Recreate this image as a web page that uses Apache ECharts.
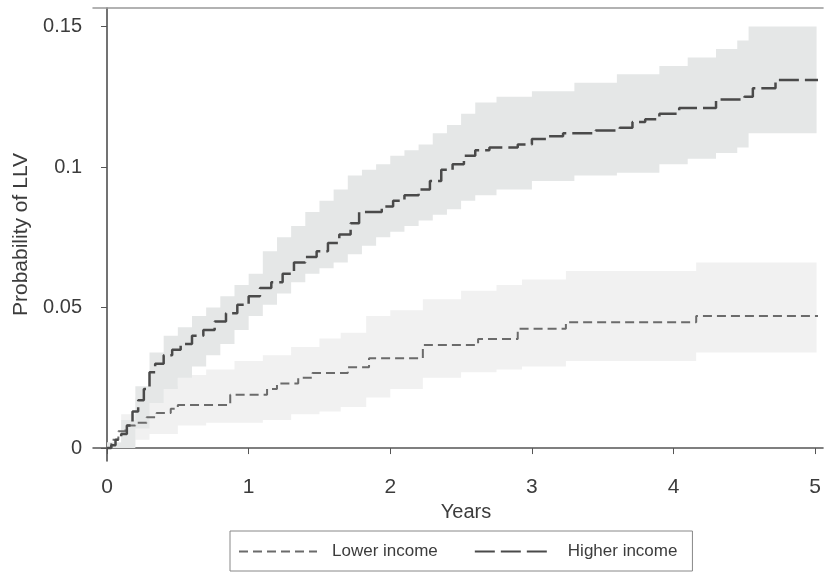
<!DOCTYPE html>
<html>
<head>
<meta charset="utf-8">
<script src="https://cdn.jsdelivr.net/npm/echarts@6/dist/echarts.min.js"></script>
<style>
  html, body { margin: 0; padding: 0; background: #fff; }
  #chart { width: 824px; height: 572px; }
</style>
</head>
<body>
<div id="chart"></div>
<script>
  // Kaplan-Meier style cumulative probability
  const xTicks = [0, 1, 2, 3, 4, 5]
  const yTicks = [0, 0.05, 0.1, 0.15]

  // higher income estimate
  const hiT = [0, 0.03, 0.06, 0.1, 0.14, 0.18, 0.22, 0.26, 0.3, 0.34, 0.4, 0.46, 0.52, 0.6, 0.68, 0.76, 0.84, 0.92, 1.0, 1.08, 1.16, 1.24, 1.32, 1.4, 1.48, 1.56, 1.64, 1.72, 1.78, 1.94, 2.02, 2.1, 2.2, 2.28, 2.36, 2.44, 2.52, 2.6, 2.7, 2.9, 3.0, 3.12, 3.22, 3.45, 3.62, 3.71, 3.8, 3.9, 4.04, 4.3, 4.5, 4.56, 4.72, 5.02]
  const hiP = [0, 0.001, 0.003, 0.005, 0.008, 0.013, 0.017, 0.021, 0.027, 0.030, 0.033, 0.035, 0.037, 0.040, 0.042, 0.045, 0.048, 0.051, 0.054, 0.057, 0.059, 0.062, 0.066, 0.068, 0.070, 0.073, 0.076, 0.080, 0.084, 0.086, 0.088, 0.090, 0.092, 0.095, 0.099, 0.101, 0.104, 0.106, 0.107, 0.108, 0.110, 0.111, 0.112, 0.113, 0.114, 0.116, 0.117, 0.119, 0.121, 0.124, 0.125, 0.128, 0.131, 0.131]

  // lower income estimate
  const loT = [0, 0.03, 0.08, 0.13, 0.2, 0.28, 0.35, 0.45, 0.5, 0.87, 1.13, 1.2, 1.35, 1.45, 1.7, 1.85, 2.23, 2.62, 2.9, 3.24, 4.16, 5.02]
  const loP = [0, 0.003, 0.006, 0.008, 0.009, 0.011, 0.0125, 0.014, 0.0153, 0.019, 0.021, 0.023, 0.025, 0.0267, 0.0288, 0.032, 0.0367, 0.0388, 0.0425, 0.0448, 0.047, 0.047]

  // confidence bands
  const hiBandT = [0, 0.1, 0.2, 0.3, 0.4, 0.5, 0.6, 0.7, 0.8, 0.9, 1.0, 1.1, 1.2, 1.3, 1.4, 1.5, 1.6, 1.7, 1.8, 1.9, 2.0, 2.1, 2.2, 2.3, 2.4, 2.5, 2.6, 2.75, 3.0, 3.3, 3.6, 3.9, 4.1, 4.3, 4.45, 4.53, 5.01]
  const hiBandUp = [0.002, 0.010, 0.022, 0.034, 0.040, 0.043, 0.047, 0.050, 0.054, 0.058, 0.062, 0.070, 0.075, 0.079, 0.084, 0.088, 0.092, 0.097, 0.099, 0.101, 0.104, 0.106, 0.108, 0.112, 0.115, 0.119, 0.123, 0.125, 0.127, 0.130, 0.133, 0.136, 0.139, 0.142, 0.145, 0.150, 0.151]
  const hiBandLo = [0, 0, 0.007, 0.016, 0.021, 0.025, 0.029, 0.033, 0.037, 0.042, 0.047, 0.051, 0.055, 0.059, 0.062, 0.064, 0.066, 0.069, 0.072, 0.075, 0.077, 0.079, 0.081, 0.083, 0.085, 0.088, 0.090, 0.092, 0.095, 0.097, 0.098, 0.101, 0.103, 0.105, 0.107, 0.112, 0.114]

  const loBandT = [0, 0.1, 0.2, 0.3, 0.5, 0.7, 0.9, 1.1, 1.3, 1.5, 1.65, 1.83, 2.0, 2.23, 2.5, 2.75, 2.93, 3.24, 4.16, 5.01]
  const loBandUp = [0.002, 0.012, 0.018, 0.022, 0.026, 0.028, 0.031, 0.033, 0.036, 0.039, 0.041, 0.047, 0.049, 0.053, 0.056, 0.058, 0.060, 0.063, 0.066, 0.066]
  const loBandLo = [0, 0.001, 0.003, 0.005, 0.008, 0.009, 0.009, 0.010, 0.012, 0.013, 0.0146, 0.018, 0.021, 0.025, 0.027, 0.028, 0.029, 0.031, 0.034, 0.034]

  const zip = (xs, ys) => xs.map((x, i) => [x, ys[i]])

  // step shaped polygon between the lower and upper bound
  const bandSeries = (name, t, lo, up, color) => ({
    name: name,
    type: 'custom',
    silent: true,
    data: [[0, 0]],
    renderItem(params, api) {
      let top = []
      let bottom = []
      for (let i = 0; i < t.length; i++) {
        let next = i + 1 < t.length ? t[i + 1] : t[i]
        top.push(api.coord([t[i], up[i]]), api.coord([next, up[i]]))
        bottom.push(api.coord([t[i], lo[i]]), api.coord([next, lo[i]]))
      }
      return {
        type: 'polygon',
        shape: { points: top.concat(bottom.reverse()) },
        style: { fill: color }
      }
    }
  })

  const textColor = '#3c3c3c'
  const font = 'Liberation Sans, Arial, sans-serif'

  const chart = echarts.init(document.getElementById('chart'))
  chart.setOption({
    animation: false,
    backgroundColor: '#fff',
    grid: { left: 93, right: 0, top: 8, bottom: 111, containLabel: false },
    legend: {
      data: ['Lower income', 'Higher income'],
      left: 230,
      top: 531,
      orient: 'horizontal',
      itemWidth: 78,
      itemHeight: 14,
      itemGap: 36,
      itemStyle: { opacity: 0 },
      borderColor: '#888',
      borderWidth: 1,
      borderRadius: 0,
      padding: [12, 15, 11, 8],
      textStyle: { fontSize: 17, color: textColor, fontFamily: font, padding: [0, 0, 0, 10] }
    },
    xAxis: [{
      type: 'value',
      min: -0.099,
      max: 5.056,
      name: 'Years',
      nameLocation: 'middle',
      nameGap: 37,
      nameTextStyle: { fontSize: 20, color: textColor, fontFamily: font, padding: [0, 0, 0, 16] },
      splitLine: { show: false },
      axisLine: { lineStyle: { color: '#555', width: 1.5 } },
      axisTick: { show: true, length: 6, customValues: xTicks, lineStyle: { color: '#555' } },
      axisLabel: { customValues: xTicks, fontSize: 21, color: textColor, fontFamily: font, margin: 16 }
    }, {
      type: 'value',
      position: 'top',
      min: -0.099,
      max: 5.056,
      axisLine: { show: true, lineStyle: { color: '#999', width: 1.5 } },
      axisTick: { show: false },
      axisLabel: { show: false },
      splitLine: { show: false }
    }],
    yAxis: {
      type: 'value',
      min: -0.0046,
      max: 0.1566,
      name: 'Probability of LLV',
      nameLocation: 'middle',
      nameGap: 61,
      nameTextStyle: { fontSize: 21, color: textColor, fontFamily: font },
      splitLine: { show: false },
      axisLine: { show: true, lineStyle: { color: '#444', width: 1.5 } },
      axisTick: { show: true, length: 6, customValues: yTicks, lineStyle: { color: '#555' } },
      axisLabel: {
        customValues: yTicks,
        fontSize: 20,
        color: textColor,
        fontFamily: font,
        margin: 11,
        formatter: v => String(+v.toFixed(3))
      }
    },
    series: [
      bandSeries('lowBand', loBandT, loBandLo, loBandUp, '#f1f1f1'),
      bandSeries('highBand', hiBandT, hiBandLo, hiBandUp, '#e5e7e7'),
      {
        name: 'Lower income',
        type: 'line',
        step: 'end',
        symbol: 'none',
        data: zip(loT, loP),
        lineStyle: { color: '#6b6b6b', width: 2, type: [9, 5] },
        itemStyle: { color: '#6b6b6b' }
      },
      {
        name: 'Higher income',
        type: 'line',
        step: 'end',
        symbol: 'none',
        data: zip(hiT, hiP),
        lineStyle: { color: '#4a4a4a', width: 2.5, type: [20, 6] },
        itemStyle: { color: '#4a4a4a' }
      }
    ]
  })
</script>
</body>
</html>
